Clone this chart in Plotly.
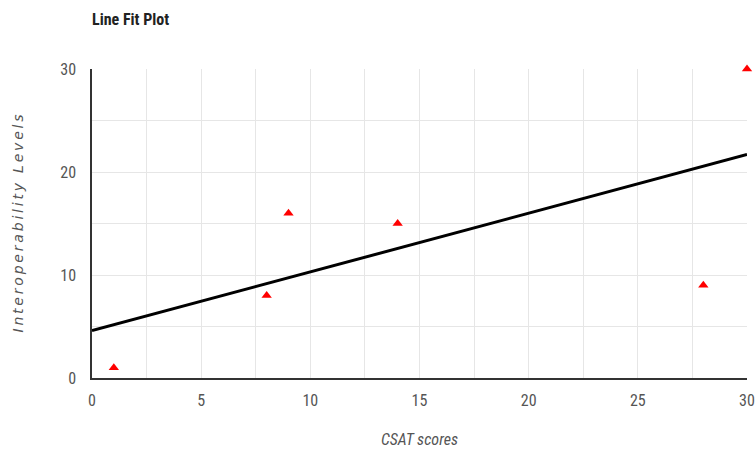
import plotly.graph_objects as go

# Observations
csat_scores = [1, 8, 9, 14, 28, 30]
interop_levels = [1, 8, 16, 15, 9, 30]

# Fitted line endpoints
fit_x = [0, 30]
fit_y = [4.6, 21.7]

x_ticks = [0, 5, 10, 15, 20, 25, 30]
y_ticks = [0, 10, 20, 30]

x_title = "CSAT scores"
y_title = "Interoperability Levels"

narrow = "Liberation Sans Narrow, Arial Narrow, Roboto Condensed, Liberation Sans, sans-serif"

# a little tracking on the y-axis title
y_title_spaced = "\u2009".join(y_title)

fig = go.Figure()
fig.add_trace(go.Scatter(
    x=fit_x, y=fit_y, mode="lines",
    line=dict(color="#000000", width=3),
    hoverinfo="skip", showlegend=False,
))
fig.add_trace(go.Scatter(
    x=csat_scores, y=interop_levels, mode="markers",
    marker=dict(symbol="triangle-up", color="#ff0000", size=9),
    showlegend=False, cliponaxis=False,
))

fig.update_layout(
    width=756, height=460,
    margin=dict(l=92, r=9, t=69, b=82, autoexpand=False),
    paper_bgcolor="white", plot_bgcolor="white",
    title=dict(text="<b>Line Fit Plot</b>", x=92 / 756, xanchor="left",
               y=1 - 19 / 460, yanchor="middle",
               font=dict(family=narrow, size=16, color="#222222")),
    xaxis=dict(
        range=[0, 30], tickvals=x_ticks, ticks="", ticklabelstandoff=7,
        automargin=False,
        tickfont=dict(family=narrow, size=16, color="#555555"),
        showgrid=True, gridcolor="#e6e6e6", gridwidth=1,
        minor=dict(dtick=2.5, showgrid=True, gridcolor="#e6e6e6", gridwidth=1),
        showline=True, linecolor="#333333", linewidth=1.5,
        zeroline=False,
        title=dict(text="<i>" + x_title + "</i>", standoff=25,
                   font=dict(family=narrow, size=16, color="#555555")),
    ),
    yaxis=dict(
        range=[0, 30], tickvals=y_ticks, ticks="", ticklabelstandoff=11,
        automargin=False,
        tickfont=dict(family=narrow, size=16, color="#555555"),
        showgrid=True, gridcolor="#e6e6e6", gridwidth=1,
        minor=dict(dtick=5, showgrid=True, gridcolor="#e6e6e6", gridwidth=1),
        showline=True, linecolor="#333333", linewidth=1.5,
        zeroline=False,
        title=dict(text="<i>" + y_title_spaced + "</i>", standoff=33,
                   font=dict(family="DejaVu Sans, Verdana, sans-serif", size=14, color="#555555")),
    ),
)

fig.write_html("out.html")
